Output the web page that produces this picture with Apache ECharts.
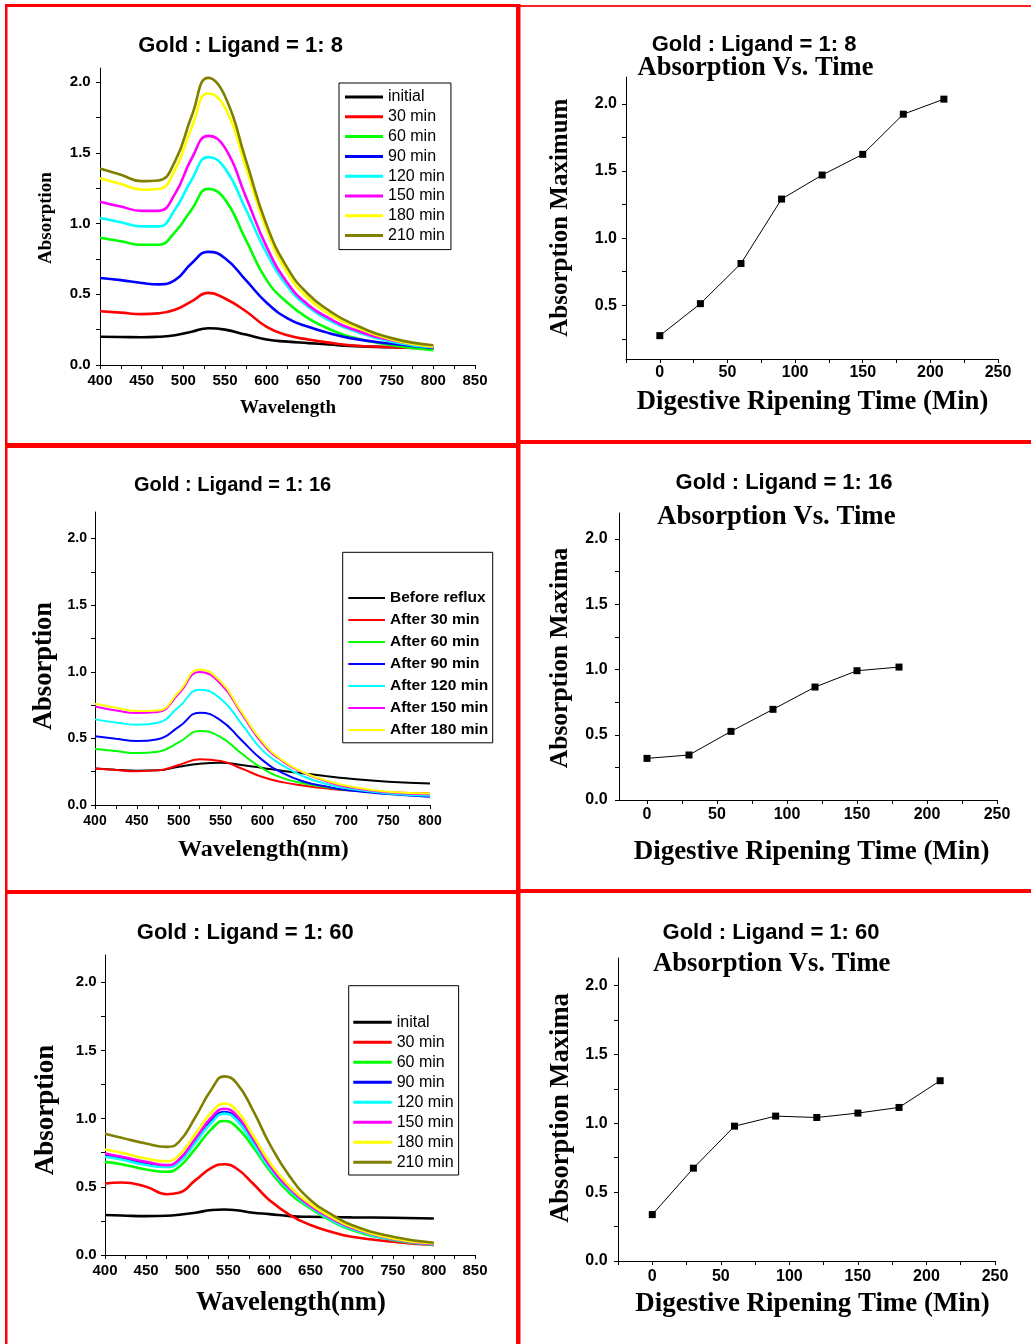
<!DOCTYPE html>
<html>
<head>
<meta charset="utf-8">
<script src="https://cdn.jsdelivr.net/npm/echarts@6/dist/echarts.min.js"></script>
<style>
  html, body { margin: 0; padding: 0; background: #ffffff; }
  #chart { width: 1031px; height: 1344px; }
</style>
</head>
<body>
<div id="chart"></div>
<script>
// ---------- Gold : Ligand = 1:8, UV-vis spectra ----------
const wl8 = [400, 425, 450, 470, 490, 510, 530, 550, 575, 600, 625, 650, 675, 700, 750, 800];
const names8 = ['initial', '30 min', '60 min', '90 min', '120 min', '150 min', '180 min', '210 min'];
const r8_initial = [0.20, 0.198, 0.196, 0.20, 0.21, 0.235, 0.26, 0.25, 0.215, 0.18, 0.165, 0.155, 0.145, 0.135, 0.125, 0.12];
const r8_30  = [0.38, 0.37, 0.36, 0.365, 0.39, 0.45, 0.51, 0.47, 0.38, 0.27, 0.21, 0.18, 0.158, 0.14, 0.125, 0.115];
const r8_60  = [0.90, 0.875, 0.85, 0.85, 0.94, 1.10, 1.245, 1.17, 0.885, 0.60, 0.44, 0.33, 0.255, 0.20, 0.14, 0.105];
const r8_90  = [0.615, 0.60, 0.58, 0.57, 0.60, 0.72, 0.80, 0.755, 0.60, 0.44, 0.33, 0.27, 0.225, 0.19, 0.15, 0.12];
const r8_120 = [1.04, 1.01, 0.98, 0.98, 1.10, 1.31, 1.47, 1.39, 1.10, 0.79, 0.555, 0.41, 0.315, 0.25, 0.165, 0.125];
const r8_150 = [1.155, 1.12, 1.09, 1.09, 1.21, 1.46, 1.62, 1.535, 1.19, 0.835, 0.58, 0.425, 0.33, 0.26, 0.175, 0.13];
const r8_180 = [1.32, 1.28, 1.24, 1.245, 1.38, 1.68, 1.92, 1.82, 1.40, 0.955, 0.65, 0.47, 0.36, 0.285, 0.18, 0.13];
const r8_210 = [1.39, 1.345, 1.30, 1.305, 1.44, 1.76, 2.03, 1.90, 1.45, 0.99, 0.685, 0.50, 0.385, 0.30, 0.19, 0.14];

// ---------- Gold : Ligand = 1:16, UV-vis spectra ----------
const wl16 = [400, 425, 450, 475, 500, 525, 550, 575, 600, 625, 650, 675, 700, 750, 800];
const names16 = ['Before reflux', 'After 30 min', 'After 60 min', 'After 90 min', 'After 120 min', 'After 150 min', 'After 180 min'];
const r16_before = [0.274, 0.265, 0.257, 0.26, 0.287, 0.31, 0.317, 0.30, 0.278, 0.255, 0.237, 0.218, 0.20, 0.175, 0.162];
const r16_30  = [0.274, 0.262, 0.254, 0.26, 0.30, 0.343, 0.33, 0.274, 0.21, 0.17, 0.145, 0.125, 0.11, 0.095, 0.087];
const r16_60  = [0.42, 0.405, 0.39, 0.40, 0.47, 0.555, 0.51, 0.387, 0.274, 0.20, 0.162, 0.135, 0.112, 0.087, 0.075];
const r16_90  = [0.516, 0.497, 0.48, 0.494, 0.586, 0.693, 0.636, 0.486, 0.337, 0.237, 0.175, 0.14, 0.112, 0.082, 0.062];
const r16_120 = [0.643, 0.62, 0.603, 0.618, 0.736, 0.865, 0.798, 0.61, 0.41, 0.294, 0.212, 0.16, 0.125, 0.087, 0.07];
const r16_150 = [0.74, 0.71, 0.69, 0.698, 0.835, 0.998, 0.91, 0.686, 0.461, 0.324, 0.237, 0.18, 0.137, 0.095, 0.08];
const r16_180 = [0.76, 0.73, 0.706, 0.71, 0.848, 1.017, 0.928, 0.698, 0.474, 0.33, 0.242, 0.185, 0.145, 0.10, 0.087];

// ---------- Gold : Ligand = 1:60, UV-vis spectra ----------
const wl60 = [400, 420, 450, 475, 490, 510, 530, 545, 560, 580, 600, 625, 650, 675, 700, 750, 800];
const names60 = ['inital', '30 min', '60 min', '90 min', '120 min', '150 min', '180 min', '210 min'];
const r60_initial = [0.293, 0.29, 0.285, 0.288, 0.295, 0.31, 0.33, 0.334, 0.328, 0.31, 0.30, 0.285, 0.28, 0.278, 0.276, 0.273, 0.268];
const r60_30  = [0.524, 0.532, 0.50, 0.446, 0.456, 0.549, 0.641, 0.666, 0.634, 0.524, 0.402, 0.293, 0.22, 0.17, 0.134, 0.098, 0.073];
const r60_60  = [0.683, 0.665, 0.627, 0.61, 0.646, 0.78, 0.927, 0.983, 0.939, 0.793, 0.622, 0.451, 0.341, 0.25, 0.183, 0.11, 0.073];
const r60_90  = [0.732, 0.71, 0.671, 0.651, 0.69, 0.837, 0.988, 1.049, 1.0, 0.83, 0.646, 0.476, 0.354, 0.262, 0.195, 0.115, 0.08];
const r60_120 = [0.72, 0.70, 0.66, 0.645, 0.68, 0.825, 0.975, 1.037, 0.99, 0.82, 0.64, 0.47, 0.35, 0.258, 0.19, 0.113, 0.078];
const r60_150 = [0.744, 0.72, 0.683, 0.659, 0.70, 0.854, 1.012, 1.073, 1.024, 0.854, 0.659, 0.483, 0.359, 0.268, 0.20, 0.117, 0.08];
const r60_180 = [0.773, 0.75, 0.707, 0.688, 0.732, 0.89, 1.049, 1.11, 1.061, 0.878, 0.683, 0.50, 0.373, 0.28, 0.207, 0.122, 0.085];
const r60_210 = [0.89, 0.86, 0.817, 0.793, 0.829, 1.012, 1.22, 1.31, 1.261, 1.061, 0.817, 0.573, 0.402, 0.30, 0.22, 0.134, 0.09];

// ---------- Absorption maxima vs. digestive ripening time ----------
const time8 = [0, 30, 60, 90, 120, 150, 180, 210];
const max8 = [0.274, 0.512, 0.811, 1.291, 1.47, 1.624, 1.923, 2.035];
const time16 = [0, 30, 60, 90, 120, 150, 180];
const max16 = [0.319, 0.345, 0.526, 0.695, 0.866, 0.991, 1.019];
const time60 = [0, 30, 60, 90, 120, 150, 180, 210];
const max60 = [0.337, 0.674, 0.979, 1.052, 1.042, 1.074, 1.115, 1.309];

// ---------- ticks and tick labels ----------
const wlTicks850 = [400, 425, 450, 475, 500, 525, 550, 575, 600, 625, 650, 675, 700, 725, 750, 775, 800, 825, 850];
const wlLabels850 = [400, 450, 500, 550, 600, 650, 700, 750, 800, 850];
const wlTicks800 = [400, 425, 450, 475, 500, 525, 550, 575, 600, 625, 650, 675, 700, 725, 750, 775, 800];
const wlLabels800 = [400, 450, 500, 550, 600, 650, 700, 750, 800];
const absTicks = [0, 0.25, 0.5, 0.75, 1.0, 1.25, 1.5, 1.75, 2.0];
const absLabels = [0, 0.5, 1.0, 1.5, 2.0];
const absTicksFrom025 = [0.25, 0.5, 0.75, 1.0, 1.25, 1.5, 1.75, 2.0];
const absLabelsFrom05 = [0.5, 1.0, 1.5, 2.0];
const timeTicks = [-25, 0, 25, 50, 75, 100, 125, 150, 175, 200, 225, 250];
const timeTicksFrom0 = [0, 25, 50, 75, 100, 125, 150, 175, 200, 225, 250];
const timeLabels = [0, 50, 100, 150, 200, 250];

// Origin-style line colours
const palette8 = ['#000000', '#ff0000', '#00ff00', '#0000ff', '#00ffff', '#ff00ff', '#ffff00', '#808000'];

const SANS = '"Liberation Sans", Arial, Helvetica, sans-serif';
const SERIF = '"Liberation Serif", "Times New Roman", Times, serif';

const chart = echarts.init(document.getElementById('chart'), null, { renderer: 'canvas' });

// plot rectangles (left, top, width, height) for the six panels
const grids = [
  { left: 100, top: 68,  width: 375, height: 297 },  // 0: 1:8 spectra
  { left: 626, top: 77,  width: 372, height: 282 },  // 1: 1:8 maxima
  { left: 95,  top: 512, width: 335, height: 293 },  // 2: 1:16 spectra
  { left: 619, top: 513, width: 378, height: 287 },  // 3: 1:16 maxima
  { left: 105, top: 955, width: 370, height: 300 },  // 4: 1:60 spectra
  { left: 618, top: 958, width: 377, height: 303 }   // 5: 1:60 maxima
];

function valueAxis(gridIndex, min, max, ticks, labels, fmt, fontSize, margin) {
  return {
    type: 'value', gridIndex, min, max,
    axisLine: { show: true, onZero: false, lineStyle: { color: '#000', width: 1 } },
    axisTick: { show: true, length: 4, customValues: ticks, lineStyle: { color: '#000', width: 1 } },
    axisLabel: {
      customValues: labels, formatter: fmt, color: '#000', fontFamily: SANS,
      fontWeight: 'bold', fontSize, margin
    },
    splitLine: { show: false }
  };
}
const f1 = v => Number(v).toFixed(1);
const f0 = v => String(Math.round(v));

const xAxes = [
  valueAxis(0, 400, 850, wlTicks850, wlLabels850, f0, 15, 8.5),
  valueAxis(1, -25, 250, timeTicks, timeLabels, f0, 16, 5.5),
  valueAxis(2, 400, 800, wlTicks800, wlLabels800, f0, 14, 9.5),
  valueAxis(3, -20, 250, timeTicksFrom0, timeLabels, f0, 16, 7),
  valueAxis(4, 400, 850, wlTicks850, wlLabels850, f0, 15, 8.2),
  valueAxis(5, -25, 250, timeTicks, timeLabels, f0, 16, 8)
];
const yAxes = [
  valueAxis(0, 0, 2.1, absTicks, absLabels, f1, 15, 9.3),
  valueAxis(1, 0.1, 2.2, absTicksFrom025, absLabelsFrom05, f1, 16, 9),
  valueAxis(2, 0, 2.2, absTicks, absLabels, f1, 14, 8),
  valueAxis(3, 0, 2.2, absTicks, absLabels, f1, 16, 11.4),
  valueAxis(4, 0, 2.2, absTicks, absLabels, f1, 15, 8.3),
  valueAxis(5, 0, 2.2, absTicks, absLabels, f1, 16, 10.4)
];

function spectrum(name, wl, vals, color, idx, width) {
  return {
    type: 'line', name, xAxisIndex: idx, yAxisIndex: idx,
    data: wl.map((w, i) => [w, vals[i]]),
    smooth: 0.5, symbol: 'none',
    lineStyle: { color, width }, itemStyle: { color },
    silent: true
  };
}
function maxima(name, t, vals, idx) {
  return {
    type: 'line', name, xAxisIndex: idx, yAxisIndex: idx,
    data: t.map((x, i) => [x, vals[i]]),
    symbol: 'rect', symbolSize: 7,
    lineStyle: { color: '#000', width: 1 }, itemStyle: { color: '#000' },
    silent: true
  };
}

const series = [];
[r8_initial, r8_30, r8_60, r8_90, r8_120, r8_150, r8_180, r8_210].forEach((v, i) =>
  series.push(spectrum(names8[i], wl8, v, palette8[i], 0, 2.6)));
[r16_before, r16_30, r16_60, r16_90, r16_120, r16_150, r16_180].forEach((v, i) =>
  series.push(spectrum(names16[i], wl16, v, palette8[i], 2, 2)));
[r60_initial, r60_30, r60_60, r60_90, r60_120, r60_150, r60_180, r60_210].forEach((v, i) =>
  series.push(spectrum(names60[i], wl60, v, palette8[i], 4, 2.6)));
series.push(maxima('Maxima 1:8', time8, max8, 1));
series.push(maxima('Maxima 1:16', time16, max16, 3));
series.push(maxima('Maxima 1:60', time60, max60, 5));

function legendBox(names, left, top, padding, itemWidth, itemHeight, itemGap, fontSize, fontWeight) {
  return {
    data: names, orient: 'vertical', left, top, padding,
    itemWidth, itemHeight, itemGap, icon: 'rect', selectedMode: false,
    borderColor: '#000', borderWidth: 1, backgroundColor: '#fff',
    textStyle: { color: '#000', fontFamily: SANS, fontSize, fontWeight }
  };
}
const legends = [
  legendBox(names8, 339, 83, [6, 6, 6, 6], 38, 3, 3.8, 16, 'normal'),
  legendBox(names16, 342.7, 552.3, [37.6, 4.5, 4.9, 5.6], 36.7, 2, 6, 15.5, 'bold'),
  legendBox(names60, 348.7, 985.7, [28.6, 5, 4.7, 4.6], 38.4, 3, 4, 16, 'normal')
];

function label(text, x, y, size, family, rotate) {
  return {
    type: 'text', x, y, rotation: rotate ? Math.PI / 2 : 0, silent: true,
    style: {
      text, fill: '#000', font: 'bold ' + size + 'px ' + family,
      textAlign: 'center', textVerticalAlign: 'middle'
    }
  };
}
function redBar(x, y, w, h, color) {
  return { type: 'rect', shape: { x, y, width: w, height: h }, style: { fill: color || '#ff0000' }, silent: true, z: 100 };
}

const graphics = [
  // panel frames
  redBar(5, 4, 515, 3),
  redBar(520, 5, 511, 2, '#ff2020'),
  redBar(5, 4, 2.5, 1340),
  redBar(516, 4, 4.5, 1340),
  redBar(5, 443, 515, 5),
  redBar(520, 440, 511, 4),
  redBar(5, 890, 515, 4),
  redBar(520, 889, 511, 4),

  // 1:8
  label('Gold : Ligand = 1: 8', 240.5, 46, 22, SANS),
  label('Absorption', 46, 218, 19, SERIF, true),
  label('Wavelength', 288, 408, 19, SERIF),
  label('Gold : Ligand = 1: 8', 754, 45, 22, SANS),
  label('Absorption Vs. Time', 755.5, 68, 26.5, SERIF),
  label('Absorption Maximum', 561, 217.7, 25, SERIF, true),
  label('Digestive Ripening Time (Min)', 812.5, 401.7, 26.7, SERIF),

  // 1:16
  label('Gold : Ligand = 1: 16', 232.5, 485.7, 20, SANS),
  label('Absorption', 44, 666, 26.5, SERIF, true),
  label('Wavelength(nm)', 263.3, 850, 24, SERIF),
  label('Gold : Ligand = 1: 16', 784, 483.3, 22, SANS),
  label('Absorption Vs. Time', 776.3, 516.7, 26.8, SERIF),
  label('Absorption Maxima', 560, 658, 25.5, SERIF, true),
  label('Digestive Ripening Time (Min)', 811.5, 852.3, 27, SERIF),

  // 1:60
  label('Gold : Ligand = 1: 60', 245.3, 933.3, 22, SANS),
  label('Absorption', 46, 1110, 27, SERIF, true),
  label('Wavelength(nm)', 291, 1303.3, 26.7, SERIF),
  label('Gold : Ligand = 1: 60', 771, 933.3, 22, SANS),
  label('Absorption Vs. Time', 771.7, 964, 26.7, SERIF),
  label('Absorption Maxima', 560.7, 1108, 26.6, SERIF, true),
  label('Digestive Ripening Time (Min)', 812.5, 1304.3, 26.9, SERIF)
];

chart.setOption({
  animation: false,
  backgroundColor: '#ffffff',
  grid: grids.map(g => Object.assign({ containLabel: false }, g)),
  xAxis: xAxes,
  yAxis: yAxes,
  legend: legends,
  series,
  graphic: graphics
});
</script>
</body>
</html>
